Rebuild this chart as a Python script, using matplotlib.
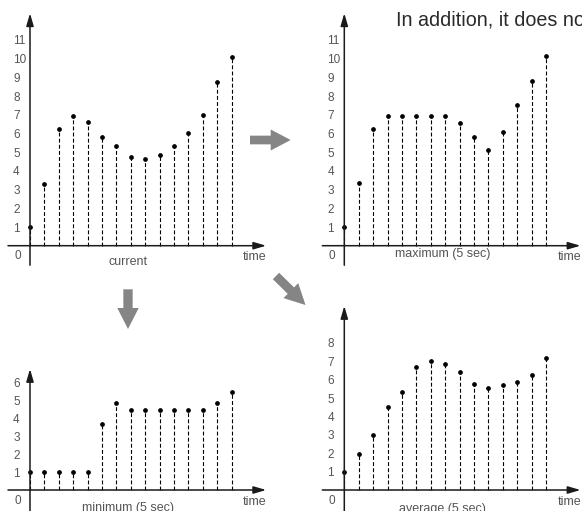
import matplotlib
matplotlib.use("Agg")
import matplotlib.pyplot as plt
from matplotlib.patches import FancyArrow

plt.rcParams['font.family'] = ['Liberation Sans', 'DejaVu Sans']

W, H = 582, 511

# time steps 0..14 and the four series
t = list(range(15))
current = [1.0, 3.32, 6.22, 6.92, 6.6, 5.79, 5.35, 4.76, 4.63, 4.83, 5.33, 6.0, 7.0, 8.75, 10.1]
maximum = [1.0, 3.35, 6.26, 6.95, 6.93, 6.95, 6.95, 6.95, 6.58, 5.79, 5.1, 6.1, 7.52, 8.79, 10.14]
minimum = [1.0, 1.0, 1.0, 1.0, 1.0, 3.65, 4.85, 4.44, 4.44, 4.44, 4.44, 4.44, 4.44, 4.85, 5.44]
average = [1.0, 1.97, 3.01, 4.49, 5.33, 6.68, 7.01, 6.87, 6.41, 5.78, 5.56, 5.69, 5.89, 6.25, 7.19]

current_ticks = list(range(1, 12))
maximum_ticks = list(range(1, 12))
minimum_ticks = list(range(1, 7))
average_ticks = list(range(1, 9))

TXT = '#555555'
AX = '#1a1a1a'

fig = plt.figure(figsize=(W / 100, H / 100), dpi=100)

# overlay in pixel units for the decorative arrows and caption
ov = fig.add_axes([0, 0, 1, 1])
ov.set_xlim(0, W)
ov.set_ylim(H, 0)
ov.axis('off')


def panel(ox, oy, ytop, uy, vals, ticks, label, label_dy, yext):
    ux = 14.4
    xmax = 16.4
    ax = fig.add_axes([ox / W, (H - oy) / H, xmax * ux / W, (oy - ytop) / H])
    ax.set_xlim(0, xmax)
    ymax = (oy - ytop) / uy
    ax.set_ylim(0, ymax)
    for s in ax.spines.values():
        s.set_visible(False)
    ax.patch.set_alpha(0)
    ax.set_xticks([])
    ax.set_yticks(ticks)
    ax.tick_params(axis='y', length=0, pad=12.2, labelsize=8.5, labelcolor=TXT)
    for lbl in ax.get_yticklabels():
        lbl.set_ha('left')

    # axis arrows
    arr = dict(arrowstyle='-|>,head_length=0.75,head_width=0.22', color=AX, lw=1.1,
               shrinkA=0, shrinkB=0)
    ax.annotate('', xy=(xmax, 0), xytext=(-22 / ux, 0), arrowprops=arr,
                annotation_clip=False)
    ax.annotate('', xy=(0, ymax), xytext=(0, -yext / uy), arrowprops=arr,
                annotation_clip=False)

    # dashed stems with dots
    ax.vlines(t, 0, vals, colors='black', linestyles=(0, (3.5, 2)), lw=0.8, clip_on=False)
    ax.plot(t, vals, 'o', color='black', ms=2.4, clip_on=False)

    ax.annotate('0', xy=(0, 0), xytext=(-12, -10.5), textcoords='offset pixels',
                ha='center', va='center', fontsize=8.5, color=TXT, annotation_clip=False)
    ax.annotate('time', xy=(0, 0), xytext=(213, -11.5), textcoords='offset pixels',
                ha='left', va='center', fontsize=9, color=TXT, annotation_clip=False)
    ax.annotate(label, xy=(0, 0), xytext=(98.5, -label_dy), textcoords='offset pixels',
                ha='center', va='center', fontsize=9, color=TXT, annotation_clip=False)
    return ax


panel(30, 245.7, 13.3, 18.7, current, current_ticks, 'current', 16, 19.5)
panel(344.3, 245.7, 13.3, 18.7, maximum, maximum_ticks, 'maximum (5 sec)', 8.5, 19.5)
panel(30, 490, 369, 18.0, minimum, minimum_ticks, 'minimum (5 sec)', 17.5, 22)
panel(344.3, 490, 306, 18.4, average, average_ticks, 'average (5 sec)', 19, 22)

# big grey flow arrows
grey = '#858585'
ov.add_patch(FancyArrow(250, 140, 40.7, 0, width=8.7, head_width=21, head_length=20,
                        length_includes_head=True, color=grey, lw=0))
ov.add_patch(FancyArrow(128, 289.3, 0, 39.7, width=9.3, head_width=21.4, head_length=21,
                        length_includes_head=True, color=grey, lw=0))
ov.add_patch(FancyArrow(276, 276, 29.5, 29, width=9, head_width=21, head_length=20.5,
                        length_includes_head=True, color=grey, lw=0))

# caption from the surrounding page, cut by the right edge as in the original
ov.text(396, 25.5, 'In addition, it does not', fontsize=14.2, color='#2a2a2a',
        ha='left', va='baseline')

fig.savefig('out.png', dpi=100)
